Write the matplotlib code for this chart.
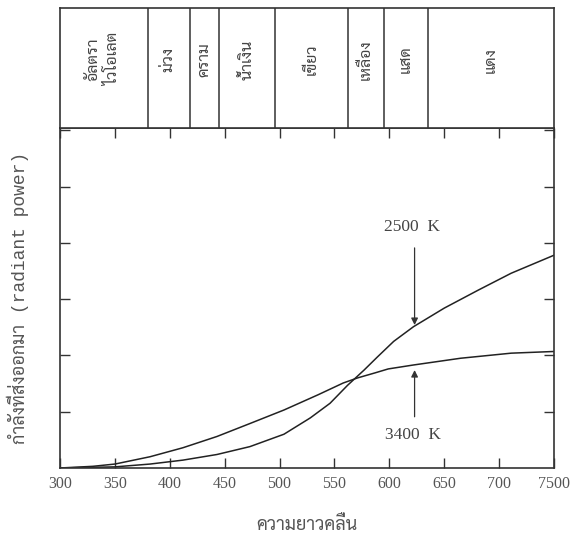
import matplotlib
matplotlib.use('Agg')
import matplotlib.pyplot as plt
from matplotlib import font_manager

# pick a Thai-capable family that is installed, keep Liberation Serif for latin
installed = {f.name for f in font_manager.fontManager.ttflist}
thai_pref = ['Sarabun', 'Noto Serif Thai', 'Noto Sans Thai', 'Athiti', 'Anuphan']
thai_font = [f for f in thai_pref if f in installed][:1]
serif = ['Liberation Serif', 'DejaVu Serif']
plt.rcParams['font.family'] = serif + thai_font

# colour bands (nm) and labels
band_edges = [300, 380, 418, 445, 496, 562, 595, 635, 750]
band_labels = ['อัลตรา\nไวโอเลต', 'ม่วง', 'คราม', 'น้ำเงิน', 'เขียว', 'เหลือง', 'แสด', 'แดง']

# curves
wl_3400 = [300, 330, 350, 382, 412, 443, 473, 504, 535, 558, 571, 587, 599, 622, 665, 711, 750]
pw_3400 = [0.0, 0.03, 0.07, 0.20, 0.36, 0.56, 0.79, 1.03, 1.30, 1.51, 1.60, 1.69, 1.76, 1.83, 1.95, 2.04, 2.07]
wl_2500 = [300, 350, 382, 412, 443, 473, 504, 528, 546, 562, 577, 589, 604, 622, 650, 681, 711, 750]
pw_2500 = [0.0, 0.02, 0.07, 0.14, 0.24, 0.38, 0.60, 0.89, 1.15, 1.47, 1.74, 1.97, 2.25, 2.51, 2.84, 3.16, 3.46, 3.78]

xticks = [300, 350, 400, 450, 500, 550, 600, 650, 700, 750]
xticklabels = ['300', '350', '400', '450', '500', '550', '600', '650', '700', '7500']

arrow_x = 623
lbl_2500 = (arrow_x - 2, 4.28)
arr_2500 = (3.91, 2.54)
lbl_3400 = (arrow_x - 1, 0.59)
arr_3400 = (0.91, 1.74)

fig = plt.figure(figsize=(5.76, 5.41), dpi=100)
ax = fig.add_axes([60 / 576, 1 - 468 / 541, 494 / 576, 340 / 541])
band = fig.add_axes([60 / 576, 1 - 128 / 541, 494 / 576, 120 / 541])

# spectrum band strip
band.set_xlim(300, 750)
band.set_ylim(0, 1)
band.set_xticks([])
band.set_yticks([])
for e in band_edges[1:-1]:
    band.axvline(e, color='#333333', lw=1.1)
for i, lab in enumerate(band_labels):
    cx = (band_edges[i] + band_edges[i + 1]) / 2
    band.text(cx, 0.57, lab, rotation=90, ha='center', va='center',
              fontsize=11.5, color='#444444', linespacing=1.5,
              family=thai_font + serif)
for s in band.spines.values():
    s.set_linewidth(1.2)
    s.set_color('#333333')

ax.plot(wl_2500, pw_2500, color='#222222', lw=1.1)
ax.plot(wl_3400, pw_3400, color='#222222', lw=1.1)

ax.set_xlim(300, 750)
ax.set_ylim(0, 6.04)
ax.set_xticks(xticks)
ax.set_xticklabels(xticklabels, fontsize=11.5)
ax.set_yticks([1, 2, 3, 4, 5, 6])
ax.set_yticklabels([])
ax.tick_params(direction='in', length=7, width=1, top=True, right=True,
               colors='#333333', pad=6)
ax.tick_params(axis='x', labelcolor='#555555')
for s in ax.spines.values():
    s.set_linewidth(1.2)
    s.set_color('#333333')

ax.text(*lbl_2500, '2500  K', ha='center', va='center', fontsize=12.5, color='#444444')
ax.annotate('', xy=(arrow_x, arr_2500[1]), xytext=(arrow_x, arr_2500[0]),
            arrowprops=dict(arrowstyle='-|>', color='#333333', lw=0.9,
                            mutation_scale=10, shrinkA=0, shrinkB=0))
ax.text(*lbl_3400, '3400  K', ha='center', va='center', fontsize=12.5, color='#444444')
ax.annotate('', xy=(arrow_x, arr_3400[1]), xytext=(arrow_x, arr_3400[0]),
            arrowprops=dict(arrowstyle='-|>', color='#333333', lw=0.9,
                            mutation_scale=10, shrinkA=0, shrinkB=0))

ax.set_xlabel('ความยาวคลื่น', fontsize=13, color='#555555', labelpad=17,
              family=thai_font + serif)
ax.set_ylabel('กำลังที่ส่งออกมา (radiant power)', fontsize=13, color='#555555',
              labelpad=16, family=['Liberation Mono'] + thai_font)

fig.savefig('out.png', dpi=100)
